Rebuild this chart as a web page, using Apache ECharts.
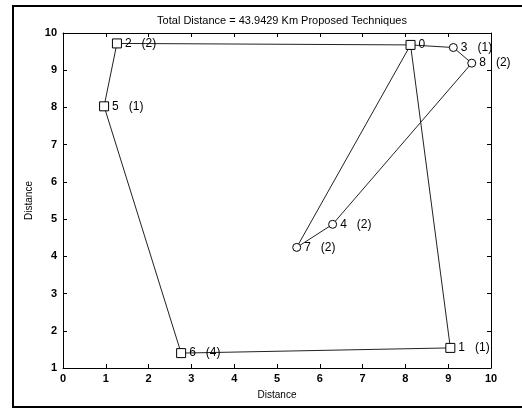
<!DOCTYPE html>
<html>
<head>
<meta charset="UTF-8">
<title>Route</title>
<script src="https://cdn.jsdelivr.net/npm/echarts@6/dist/echarts.min.js"></script>
<style>
  html, body { margin: 0; padding: 0; background: #fff; }
  #main { width: 522px; height: 409px; }
</style>
</head>
<body>
<div id="main"></div>
<script>
// node data
var nodeIds  = ['0', '3', '8', '4', '7', '1', '6', '5', '2'];
var nodeX    = [8.12, 9.12, 9.55, 6.30, 5.46, 9.05, 2.76, 0.96, 1.26];
var nodeY    = [9.68, 9.61, 9.19, 4.86, 4.24, 1.54, 1.40, 8.03, 9.72];
var demand   = ['', '1', '2', '2', '2', '1', '4', '1', '2'];
var shape    = ['rect', 'circle', 'circle', 'circle', 'circle', 'rect', 'rect', 'rect', 'rect'];
// visiting order of the tour
var route    = ['0', '3', '8', '4', '7', '0', '1', '6', '5', '2', '0'];

var xTicks = [0, 1, 2, 3, 4, 5, 6, 7, 8, 9, 10];
var yTicks = [1, 2, 3, 4, 5, 6, 7, 8, 9, 10];

var routeData = route.map(function (id) {
    var i = nodeIds.indexOf(id);
    return [nodeX[i], nodeY[i]];
});

var nodeData = nodeIds.map(function (id, i) {
    return {
        value: [nodeX[i], nodeY[i]],
        symbol: shape[i],
        symbolSize: shape[i] == 'rect' ? 9 : 8,
        name: id,
        demand: demand[i]
    };
});

var fontFam = '"Liberation Sans", Arial, sans-serif';

var myChart = echarts.init(document.getElementById('main'));
var option = {
    backgroundColor: '#fff',
    animation: false,
    title: {
        text: 'Total Distance = 43.9429 Km Proposed Techniques',
        left: 277,
        textAlign: 'center',
        top: 10,
        textStyle: { fontFamily: fontFam, fontSize: 11, fontWeight: 'normal', color: '#000' }
    },
    graphic: [{
        type: 'rect',
        shape: { x: 13, y: 6, width: 520, height: 401 },
        style: { fill: 'none', stroke: '#000', lineWidth: 2 },
        silent: true
    }],
    grid: { left: 63, right: 31, top: 33, bottom: 41 },
    xAxis: [{
        type: 'value', min: 0, max: 10, interval: 1,
        name: 'Distance', nameLocation: 'middle', nameGap: 22,
        nameTextStyle: { fontFamily: fontFam, fontSize: 10, color: '#000' },
        axisLine: { onZero: false, lineStyle: { color: '#000' } },
        axisTick: { inside: true, length: 4, lineStyle: { color: '#000' } },
        axisLabel: { fontFamily: fontFam, fontSize: 11, fontWeight: 'bold', color: '#000', margin: 5,
            formatter: function (v) { return xTicks.indexOf(v) >= 0 ? String(v) : ''; } },
        splitLine: { show: false }
    }, {
        type: 'value', min: 0, max: 10, interval: 1, position: 'top',
        axisLine: { onZero: false, lineStyle: { color: '#000' } },
        axisTick: { inside: true, length: 4, lineStyle: { color: '#000' } },
        axisLabel: { show: false },
        splitLine: { show: false }
    }],
    yAxis: [{
        type: 'value', min: 1, max: 10, interval: 1,
        name: 'Distance', nameLocation: 'middle', nameGap: 29,
        nameTextStyle: { fontFamily: fontFam, fontSize: 10, color: '#000' },
        axisLine: { onZero: false, lineStyle: { color: '#000' } },
        axisTick: { inside: true, length: 4, lineStyle: { color: '#000' } },
        axisLabel: { fontFamily: fontFam, fontSize: 11, fontWeight: 'bold', color: '#000', margin: 6,
            formatter: function (v) { return yTicks.indexOf(v) >= 0 ? String(v) : ''; } },
        splitLine: { show: false }
    }, {
        type: 'value', min: 1, max: 10, interval: 1, position: 'right',
        axisLine: { onZero: false, lineStyle: { color: '#000' } },
        axisTick: { inside: true, length: 4, lineStyle: { color: '#000' } },
        axisLabel: { show: false },
        splitLine: { show: false }
    }],
    series: [{
        type: 'line',
        data: routeData,
        symbol: 'none',
        lineStyle: { color: '#222', width: 1 },
        z: 2
    }, {
        type: 'scatter',
        data: nodeData,
        itemStyle: { color: '#fff', borderColor: '#000', borderWidth: 1, opacity: 1 },
        label: {
            show: true,
            position: 'right',
            distance: 3,
            fontFamily: fontFam,
            fontSize: 12,
            color: '#000',
            formatter: function (p) {
                var d = p.data.demand;
                return d ? p.data.name + '   (' + d + ')' : p.data.name;
            }
        },
        z: 3
    }]
};
myChart.setOption(option);
</script>
</body>
</html>
